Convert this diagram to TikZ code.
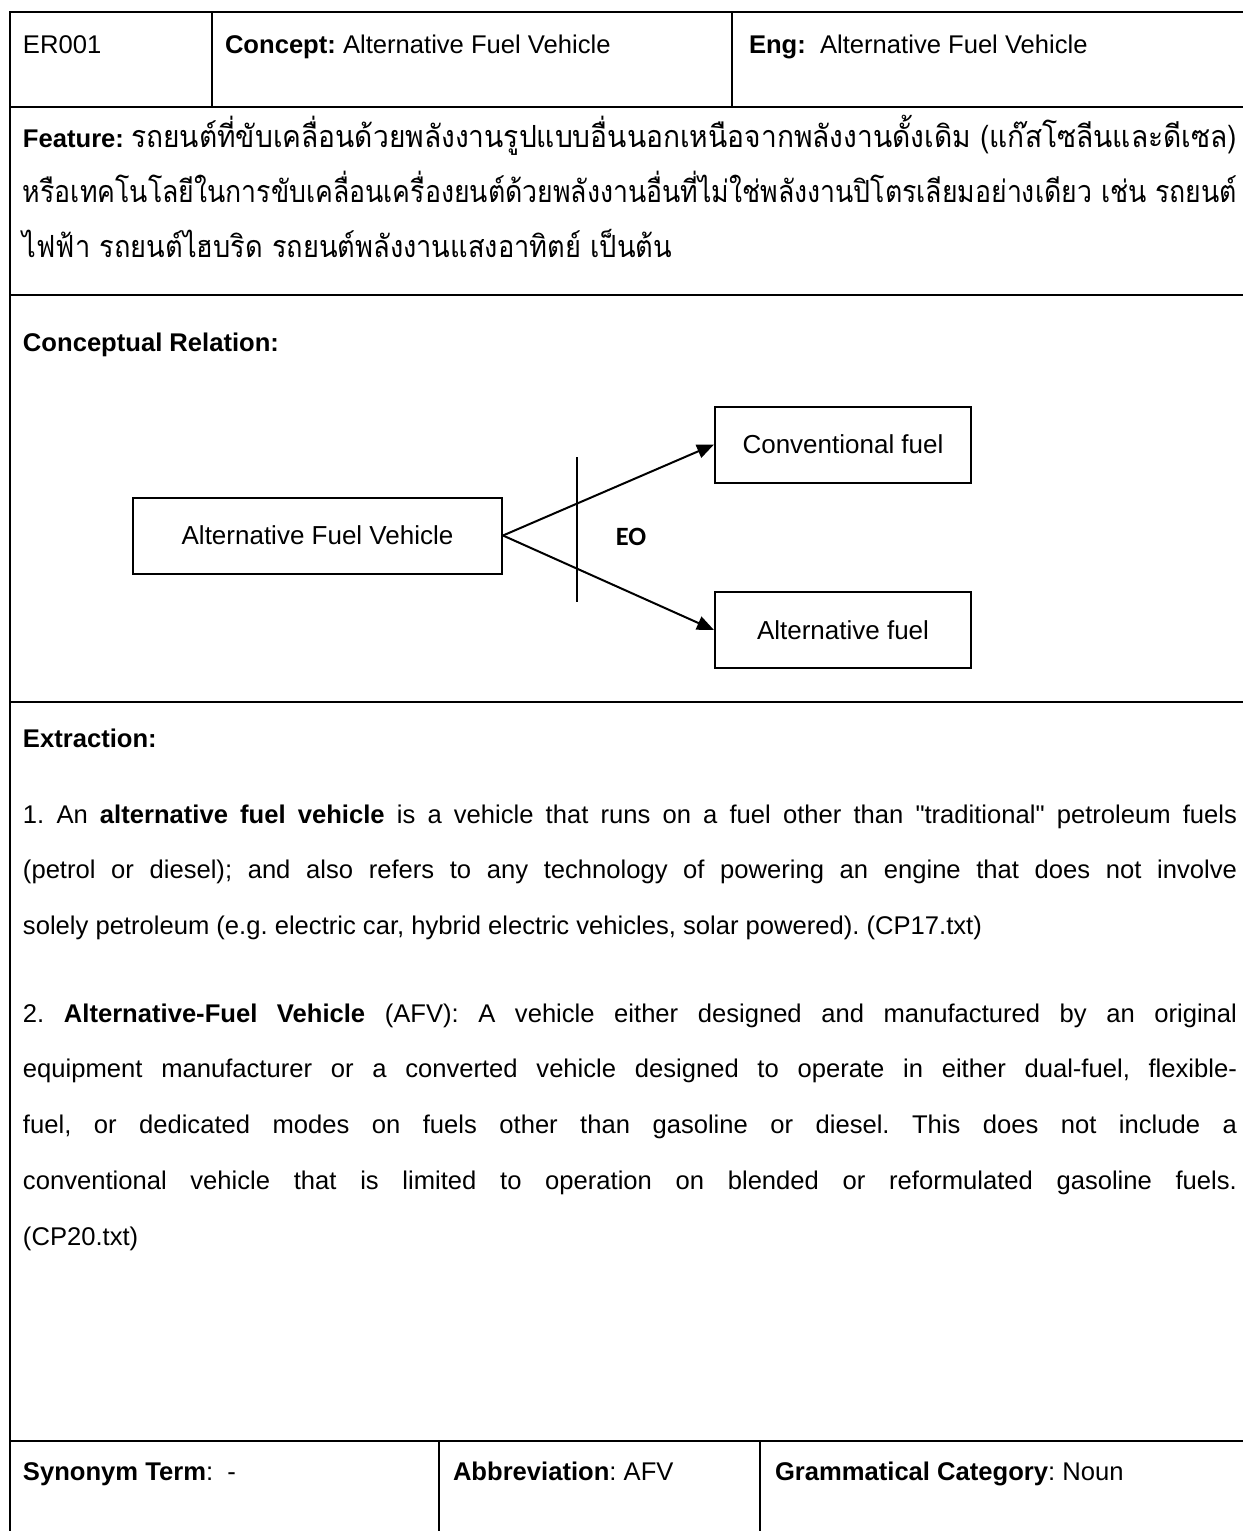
\documentclass[tikz,border=0pt]{standalone}
\usepackage{fontspec}
\usepackage{graphicx}
\usetikzlibrary{arrows.meta}
\setmainfont{Liberation Sans}[Ligatures=TeXOff]
\newfontfamily\thai[Script=Thai]{Loma}
\newfontfamily\eofont{Carlito}
\frenchspacing

% one line of text set to an exact width: spaces stretch if it is short,
% the whole line is narrowed if it is too long
\newsavebox\linebox
\newcommand\jline[2]{\sbox\linebox{#2}%
  \ifdim\wd\linebox>#1\relax\resizebox{#1}{\ht\linebox}{\usebox\linebox}%
  \else\makebox[#1][s]{#2}\fi}
% one line scaled horizontally to an exact width
\newcommand\fitto[2]{\sbox\linebox{#2}\resizebox{#1}{\ht\linebox}{\usebox\linebox}}
% a bold label followed by a line scaled to fill the rest of the width
\newlength\restwd
\newcommand\labelfit[3]{\settowidth\restwd{\textbf{#2} }%
  \setlength\restwd{\dimexpr#1-\restwd\relax}%
  \textbf{#2} \fitto{\restwd}{#3}}

\begin{document}
\begin{tikzpicture}[x=1pt,y=-1pt,
  rule/.style={line width=2pt},
  txt/.style={anchor=base west, inner sep=0pt, outer sep=0pt,
    font=\fontsize{25.6}{30}\selectfont},
  thaitxt/.style={txt, font=\fontsize{30.5}{34}\thai},
  cbox/.style={draw, line width=2pt, minimum height=76pt, inner sep=0pt,
    font=\fontsize{26}{30}\selectfont},
  rel/.style={line width=2pt, -{Triangle[length=17pt,width=14pt]}},
]
\useasboundingbox (0,0) rectangle (1243,1531);

% table rules
\draw[rule] (9,12) -- (1243,12);
\foreach \yy in {107,295,702,1441}
  \draw[rule] (9,\yy) -- (1243,\yy);
\draw[rule] (10,11) -- (10,1531);
\draw[rule] (212,12) -- (212,107);
\draw[rule] (732,12) -- (732,107);
\draw[rule] (439,1441) -- (439,1531);
\draw[rule] (760,1441) -- (760,1531);

% header row
\node[txt] (id) at (23,53) {ER001};
\node[txt] (concept) at (225,53) {\textbf{Concept:} Alternative Fuel Vehicle};
\node[txt] (eng) at (749,53) {\textbf{Eng:}\ \ Alternative Fuel Vehicle};

% feature
\node[txt] (feat1) at (23,147) {\labelfit{1214pt}{Feature:}{\fontsize{30.5}{34}\thai รถยนต์ที่ขับเคลื่อนด้วยพลังงานรูปแบบอื่นนอกเหนือจากพลังงานดั้งเดิม (แก๊สโซลีนและดีเซล)}};
\node[thaitxt] (feat2) at (23,202) {\fitto{1214pt}{หรือเทคโนโลยีในการขับเคลื่อนเครื่องยนต์ด้วยพลังงานอื่นที่ไม่ใช่พลังงานปิโตรเลียมอย่างเดียว เช่น รถยนต์}};
\node[thaitxt] (feat3) at (23,257) {\fitto{649pt}{ไฟฟ้า รถยนต์ไฮบริด รถยนต์พลังงานแสงอาทิตย์ เป็นต้น}};

% conceptual relation
\node[txt] (crel) at (23,351) {\textbf{Conceptual Relation:}};
\node[cbox, minimum width=369pt] (afv) at (317.5,535.5) {Alternative Fuel Vehicle};
\node[cbox, minimum width=256pt] (conv) at (843,444.5) {Conventional fuel};
\node[cbox, minimum width=256pt] (alt) at (843,630) {Alternative fuel};
\draw[rel] (afv.east) -- (conv.west);
\draw[rel] (afv.east) -- (alt.west);
\coordinate (barTop) at (577,457);
\coordinate (barBot) at (577,602);
\draw[rule] (barTop) -- (barBot);
\node[inner sep=0pt, font=\eofont\bfseries\fontsize{26.4}{30}\selectfont] (eo) at (631,537) {EO};

% extraction
\node[txt] (ext) at (23,747) {\textbf{Extraction:}};
\node[txt] (e1a) at (23,823) {\jline{1214pt}{1. An \textbf{alternative fuel vehicle} is a vehicle that runs on a fuel other than "traditional" petroleum fuels}};
\node[txt] (e1b) at (23,878) {\jline{1214pt}{(petrol or diesel); and also refers to any technology of powering an engine that does not involve}};
\node[txt] (e1c) at (23,934) {solely petroleum (e.g. electric car, hybrid electric vehicles, solar powered). (CP17.txt)};
\node[txt] (e2a) at (23,1022) {\jline{1214pt}{2. \textbf{Alternative-Fuel Vehicle} (AFV): A vehicle either designed and manufactured by an original}};
\node[txt] (e2b) at (23,1077) {\jline{1214pt}{equipment manufacturer or a converted vehicle designed to operate in either dual-fuel, flexible-}};
\node[txt] (e2c) at (23,1133) {\jline{1214pt}{fuel, or dedicated modes on fuels other than gasoline or diesel. This does not include a}};
\node[txt] (e2d) at (23,1189) {\jline{1214pt}{conventional vehicle that is limited to operation on blended or reformulated gasoline fuels.}};
\node[txt] (e2e) at (23,1245) {(CP20.txt)};

% bottom row
\node[txt] (syn) at (23,1480) {\textbf{Synonym Term}:\ \ -};
\node[txt] (abbr) at (453,1480) {\textbf{Abbreviation}: AFV};
\node[txt] (gram) at (775,1480) {\textbf{Grammatical Category}: Noun};
\end{tikzpicture}
\end{document}
